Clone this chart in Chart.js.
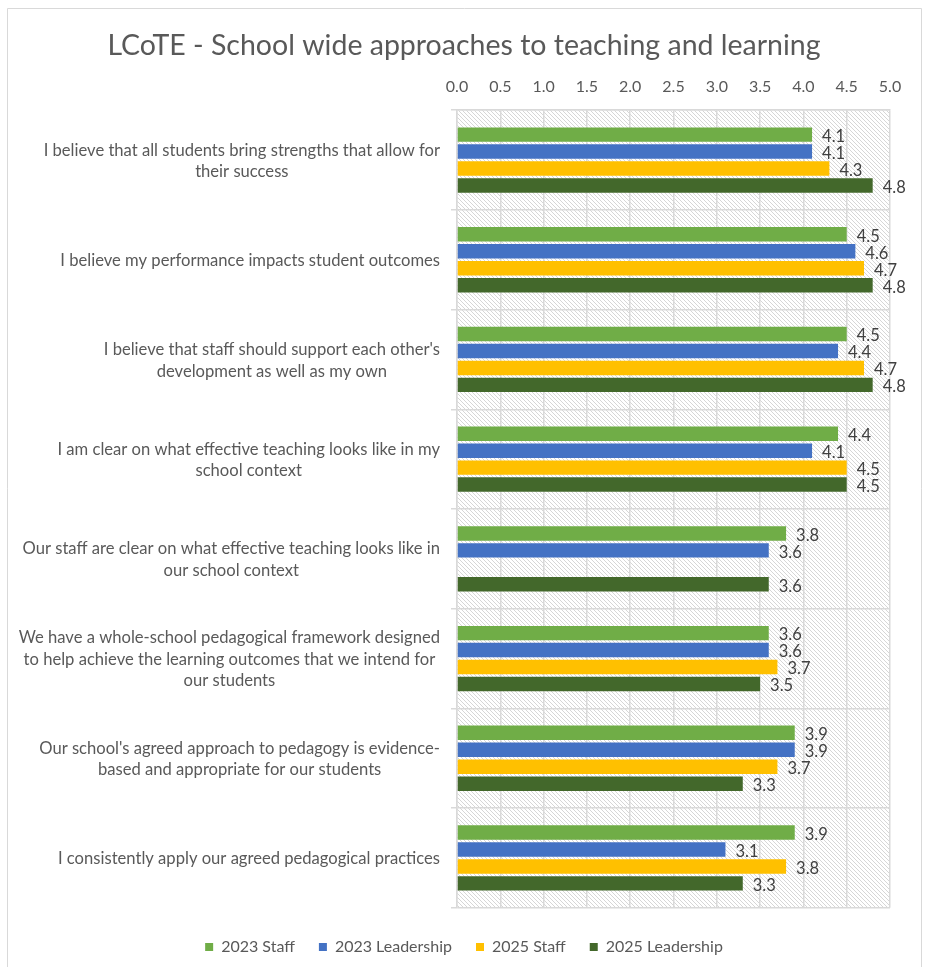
<!DOCTYPE html>
<html>
<head>
<meta charset="utf-8">
<script src="https://cdn.jsdelivr.net/npm/chart.js@4.4.1/dist/chart.umd.min.js"></script>
<style>
  html, body { margin: 0; background: #fff; }
</style>
</head>
<body>
<canvas id="grafico" width="928" height="967"></canvas>
<script>
const categories = [
  ["I believe that all students bring strengths that allow for", "their success"],
  ["I believe my performance impacts student outcomes"],
  ["I believe that staff should support each other's", "development as well as my own"],
  ["I am clear on what effective teaching looks like in my", "school context"],
  ["Our staff are clear on what effective teaching looks like in", "our school context"],
  ["We have a whole-school pedagogical framework designed", "to help achieve the learning outcomes that we intend for", "our students"],
  ["Our school's agreed approach to pedagogy is evidence-", "based and appropriate for our students"],
  ["I consistently apply our agreed pedagogical practices"]
];

const staff2023 = [4.1, 4.5, 4.5, 4.4, 3.8, 3.6, 3.9, 3.9];
const leadership2023 = [4.1, 4.6, 4.4, 4.1, 3.6, 3.6, 3.9, 3.1];
const staff2025 = [4.3, 4.7, 4.7, 4.5, null, 3.7, 3.7, 3.8];
const leadership2025 = [4.8, 4.8, 4.8, 4.5, 3.6, 3.5, 3.3, 3.3];

const seriesNames = ['2023 Staff', '2023 Leadership', '2025 Staff', '2025 Leadership'];
const seriesColors = ['#70AD47', '#4472C4', '#FFC000', '#43682B'];

const FONT = 'Lato';
const TEXT = '#595959';
const GRID = '#d9d9d9';

function makeHatch() {
  const s = 4;
  const c = document.createElement('canvas');
  c.width = s; c.height = s;
  const g = c.getContext('2d');
  g.fillStyle = '#ffffff';
  g.fillRect(0, 0, s, s);
  g.strokeStyle = '#d6d6d6';
  g.lineWidth = 1;
  g.beginPath();
  g.moveTo(-s, 0); g.lineTo(s, 2 * s);
  g.moveTo(0, 0); g.lineTo(s, s);
  g.moveTo(0, -s); g.lineTo(2 * s, s);
  g.stroke();
  return g.createPattern(c, 'repeat');
}

const background = {
  id: 'background',
  beforeDraw(chart) {
    const { ctx, chartArea: a, width, height } = chart;
    ctx.save();
    ctx.fillStyle = '#fff';
    ctx.fillRect(0, 0, width, height);
    ctx.strokeStyle = GRID;
    ctx.lineWidth = 1;
    ctx.beginPath();
    ctx.moveTo(7.5, height + 5);
    ctx.lineTo(7.5, 8.5);
    ctx.lineTo(921.5, 8.5);
    ctx.lineTo(921.5, height + 5);
    ctx.stroke();
    ctx.fillStyle = makeHatch();
    ctx.fillRect(a.left, a.top, a.right - a.left, a.bottom - a.top);
    ctx.restore();
  }
};

const valueLabels = {
  id: 'valueLabels',
  afterDatasetsDraw(chart) {
    const { ctx } = chart;
    ctx.save();
    ctx.font = '16.5px ' + FONT;
    ctx.fillStyle = '#404040';
    ctx.textAlign = 'left';
    ctx.textBaseline = 'middle';
    chart.data.datasets.forEach((ds, i) => {
      chart.getDatasetMeta(i).data.forEach((bar, j) => {
        if (ds.data[j] == null) return;
        ctx.fillText(ds.data[j].toFixed(1), bar.x + 10, bar.y + 2);
      });
    });
    ctx.restore();
  }
};

const categoryLabels = {
  id: 'categoryLabels',
  afterDraw(chart) {
    const { ctx } = chart;
    const y = chart.scales.y;
    const right = 440;
    const lineH = 21.5;
    ctx.save();
    ctx.font = '16.6px ' + FONT;
    ctx.fillStyle = TEXT;
    ctx.textAlign = 'center';
    ctx.textBaseline = 'middle';
    categories.forEach((lines, i) => {
      const w = Math.max(...lines.map(l => ctx.measureText(l).width));
      const cx = right - w / 2;
      const cy = y.getPixelForValue(i) + 1;
      const top = cy - (lines.length - 1) * lineH / 2;
      lines.forEach((l, k) => ctx.fillText(l, cx, top + k * lineH));
    });
    ctx.restore();
  }
};

new Chart(document.getElementById('grafico').getContext('2d'), {
  type: 'bar',
  data: {
    labels: categories.map(c => c.join(' ')),
    datasets: [staff2023, leadership2023, staff2025, leadership2025].map((d, i) => ({
      label: seriesNames[i],
      data: d,
      xAxisID: 'x',
      yAxisID: 'y',
      backgroundColor: seriesColors[i],
      categoryPercentage: 0.68,
      barPercentage: 0.85
    }))
  },
  options: {
    indexAxis: 'y',
    responsive: false,
    animation: false,
    layout: { padding: { left: 0, right: 0, top: 0, bottom: 2 } },
    scales: {
      x: {
        position: 'top',
        min: 0,
        max: 5,
        ticks: {
          stepSize: 0.5,
          padding: 14,
          color: TEXT,
          font: { family: FONT, size: 16 },
          callback: v => v.toFixed(1)
        },
        grid: { color: GRID, lineWidth: 1.5, drawTicks: false },
        border: { color: GRID, width: 1.5 },
        afterFit: s => { s.height = 47; }
      },
      y: {
        offset: true,
        ticks: { display: false },
        grid: { offset: true, color: GRID, lineWidth: 1.5, tickLength: 6 },
        border: { color: GRID, width: 1.5 },
        afterFit: s => { s.width = 457; }
      },
      rightPad: {
        type: 'linear',
        position: 'right',
        grid: { display: false },
        ticks: { display: false },
        border: { display: false },
        afterFit: s => { s.width = 38; }
      }
    },
    plugins: {
      title: {
        display: true,
        text: 'LCoTE - School wide approaches to teaching and learning',
        color: TEXT,
        font: { family: FONT, size: 28.5, weight: 'normal' },
        padding: { top: 29, bottom: 0 }
      },
      legend: {
        position: 'bottom',
        title: { display: true, text: '', font: { size: 1 }, padding: { top: 6, bottom: 0 } },
        labels: {
          boxWidth: 8,
          boxHeight: 8,
          padding: 24,
          color: TEXT,
          font: { family: FONT, size: 16 }
        }
      },
      tooltip: { enabled: false }
    }
  },
  plugins: [background, valueLabels, categoryLabels]
});
</script>
</body>
</html>
